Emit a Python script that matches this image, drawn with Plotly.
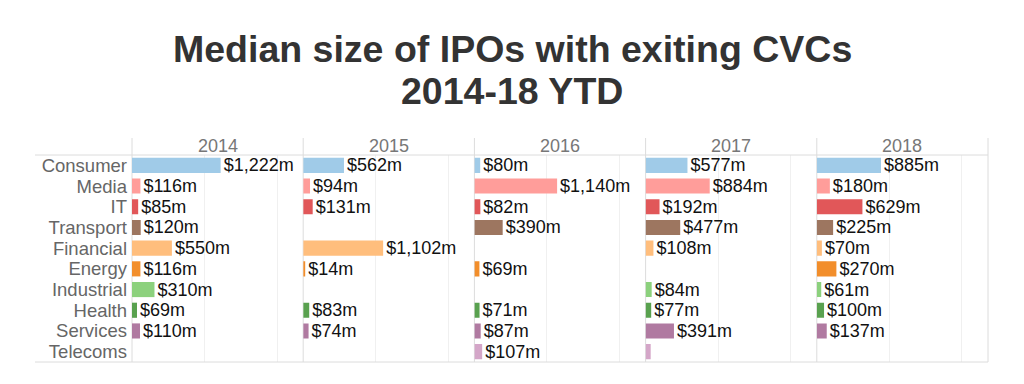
import plotly.graph_objects as go
from plotly.subplots import make_subplots

categories = ["Consumer", "Media", "IT", "Transport", "Financial", "Energy",
              "Industrial", "Health", "Services", "Telecoms"]
years = ["2014", "2015", "2016", "2017", "2018"]

v2014 = [1222, 116, 85, 120, 550, 116, 310, 69, 110, None]
v2015 = [562, 94, 131, None, 1102, 14, None, 83, 74, None]
v2016 = [80, 1140, 82, 390, None, 69, None, 71, 87, 107]
v2017 = [577, 884, 192, 477, 108, None, 84, 77, 391, 70]
v2018 = [885, 180, 629, 225, 70, 270, 61, 100, 137, None]
values = [v2014, v2015, v2016, v2017, v2018]

# bars shown in the reference without a value label
unlabelled = {("2017", "Telecoms")}

colors = ["#A0CBE8", "#FF9D9A", "#E15759", "#9D7660", "#FFBE7D", "#F28E2B",
          "#8CD17D", "#59A14F", "#B07AA1", "#D4A6C8"]

FONT = "Arial, Liberation Sans, sans-serif"

fig = make_subplots(rows=1, cols=5, shared_yaxes=True, horizontal_spacing=0)

for i, (yr, vals) in enumerate(zip(years, values)):
    texts = []
    for c, v in zip(categories, vals):
        if v is None or (yr, c) in unlabelled:
            texts.append("")
        else:
            texts.append(f"${v:,}m")
    fig.add_trace(go.Bar(
        x=vals, y=categories, orientation="h",
        marker=dict(color=colors, line=dict(width=0)),
        text=texts, textposition="outside", cliponaxis=False,
        constraintext="none",
        textfont=dict(family=FONT, size=18, color="#111111"),
        showlegend=False, hoverinfo="skip",
    ), row=1, col=i + 1)
    fig.update_xaxes(range=[0, 2360], showticklabels=False, showgrid=True,
                     gridcolor="#f0f0f0", gridwidth=1, dtick=1000,
                     zeroline=False, showline=False, fixedrange=True,
                     row=1, col=i + 1)

fig.update_yaxes(type="category", categoryorder="array", categoryarray=categories,
                 tickmode="array", tickvals=categories, ticktext=categories,
                 autorange="reversed", showgrid=False, zeroline=False, showline=False,
                 ticks="", ticklabelstandoff=4, fixedrange=True,
                 tickfont=dict(family=FONT, size=18.5, color="#666666"))

L, R, T, B = 132, 36, 155, 22
W, H = 1024, 384
pw = W - L - R
ph = H - T - B

def px_x(p):
    return (p - L) / pw

def px_y(p):
    return (H - B - p) / ph

shapes = []
# header line and bottom line
for yy in (155, 362):
    shapes.append(dict(type="line", xref="paper", yref="paper",
                       x0=px_x(35), x1=1, y0=px_y(yy), y1=px_y(yy),
                       line=dict(color="#dcdcdc", width=1), layer="above"))
# panel separators
for i in range(6):
    x = i / 5
    shapes.append(dict(type="line", xref="paper", yref="paper",
                       x0=x, x1=x, y0=0, y1=px_y(138),
                       line=dict(color="#dcdcdc", width=1), layer="below"))

annotations = []
for i, yr in enumerate(years):
    annotations.append(dict(text=yr, xref="paper", yref="paper",
                            x=(i + 0.5) / 5, y=px_y(146), xanchor="center",
                            yanchor="middle", showarrow=False,
                            font=dict(family=FONT, size=18, color="#777777")))

annotations.append(dict(text="<b>Median size of IPOs with exiting CVCs</b>",
                        xref="paper", yref="paper", x=px_x(512), y=px_y(49),
                        xanchor="center", yanchor="middle", showarrow=False,
                        font=dict(family=FONT, size=37.5, color="#333333")))
annotations.append(dict(text="<b>2014-18 YTD</b>",
                        xref="paper", yref="paper", x=px_x(512), y=px_y(91),
                        xanchor="center", yanchor="middle", showarrow=False,
                        font=dict(family=FONT, size=37.5, color="#333333")))

fig.update_layout(
    width=W, height=H,
    margin=dict(l=L, r=R, t=T, b=B, pad=0),
    paper_bgcolor="white", plot_bgcolor="white",
    bargap=0.27,
    shapes=shapes, annotations=annotations,
    font=dict(family=FONT),
)

fig.write_html("out.html", config={"displayModeBar": False},
               post_script="document.body.style.margin='0';document.body.style.overflow='hidden';")
